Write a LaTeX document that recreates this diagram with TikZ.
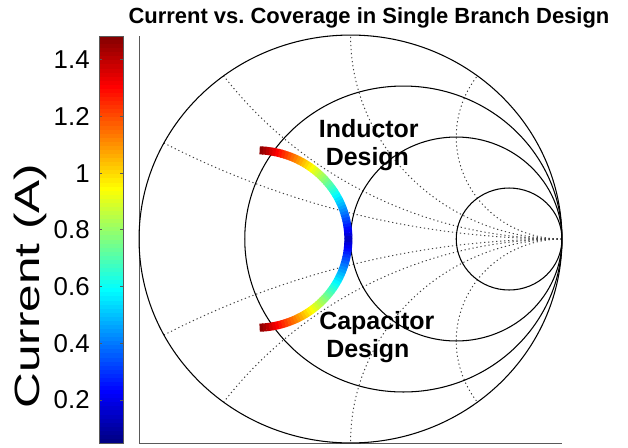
\documentclass[tikz,border=0pt]{standalone}
\usepackage{fontspec}
\setmainfont{Liberation Sans}
\usetikzlibrary{positioning,calc}

\begin{document}
\begin{tikzpicture}
  [x=0.02cm,y=-0.02cm,
   grid/.style={line width=0.6pt},
   react/.style={black!75,line width=0.55pt,dash pattern=on 0.7pt off 1.6pt},
   axisline/.style={black!65,line width=0.5pt},
   ticklabel/.style={anchor=east,inner sep=0,font=\fontsize{14.7}{17}\selectfont},
   design/.style={anchor=north west,align=left,inner sep=0,font=\fontsize{14.2}{15.8}\selectfont\bfseries}]

  \useasboundingbox (0,0) rectangle (628,447);

  % colorbar (jet)
  \foreach \i in {0,...,99}{
    \pgfmathsetmacro{\f}{(\i+0.5)/100}
    \pgfmathsetmacro{\jr}{max(0,min(1,1.5-abs(4*\f-3)))}
    \pgfmathsetmacro{\jg}{max(0,min(1,1.5-abs(4*\f-2)))}
    \pgfmathsetmacro{\jb}{max(0,min(1,1.5-abs(4*\f-1)))}
    \definecolor{barcol}{rgb}{\jr,\jg,\jb}
    \fill[barcol] (99,{443-\i*4.07}) rectangle (123,{443-(\i+1)*4.07-0.4});
  }
  \draw[axisline] (99,36) rectangle (123,443);
  \foreach \v/\t in {0.2/0.2,0.4/0.4,0.6/0.6,0.8/0.8,1/1,1.2/1.2,1.4/1.4}{
    \draw[axisline] (99,{400-(\v-0.2)*283.5}) -- ++(3,0);
    \draw[axisline] (123,{400-(\v-0.2)*283.5}) -- ++(-3,0);
    \node[ticklabel] (tick\t) at (90,{400-(\v-0.2)*283.5}) {\t};
  }
  \node[rotate=90,font=\fontsize{20}{24}\selectfont] (cbarlabel) at (30,286)
    {\scalebox{1.41}[1]{Current (A)}};

  \node[anchor=base,font=\fontsize{12.5}{15}\selectfont\bfseries] (title) at (369,23)
    {Current vs.\ Coverage in Single Branch Design};

  \draw[axisline] (139,36) -- (139,443) -- (562,443);

  \begin{scope}[shift={(350.5,239)},x=4.23cm,y=4.08cm]
    % reactance arcs
    \foreach \xv in {0.25,0.5,1,2}{
      \draw[react] (1,0) arc[start angle=270,end angle={180-atan((\xv*\xv-1)/(2*\xv))},radius=1/\xv];
      \draw[react] (1,0) arc[start angle=90,end angle={180+atan((\xv*\xv-1)/(2*\xv))},radius=1/\xv];
    }
    % resistance circles
    \draw[grid] (0,0) circle[radius=1];
    \foreach \c/\r in {0.25/0.75,0.5/0.5,0.75/0.25}
      \draw[grid] (\c,0) circle[radius=\r];

    % current band
    \foreach \a in {-88,-86,...,86}{
      \pgfmathsetmacro{\f}{min(1,0.06+0.0106*abs(\a+1))}
      \pgfmathsetmacro{\jr}{max(0,min(1,1.5-abs(4*\f-3)))}
      \pgfmathsetmacro{\jg}{max(0,min(1,1.5-abs(4*\f-2)))}
      \pgfmathsetmacro{\jb}{max(0,min(1,1.5-abs(4*\f-1)))}
      \definecolor{barcol}{rgb}{\jr,\jg,\jb}
      \draw[line width=4.6pt,barcol] ($(-0.445,0)+(\a:0.435)$)
        arc[start angle=\a,end angle={min(\a+2.3,88)},radius=0.435];
    }
  \end{scope}

  \node[design] (inductor) at (318.5,119) {Inductor\\\hspace*{0.278em}Design};
  \node[design] (capacitor) at (319,311) {Capacitor\\\hspace*{0.278em}Design};

\end{tikzpicture}
\end{document}
